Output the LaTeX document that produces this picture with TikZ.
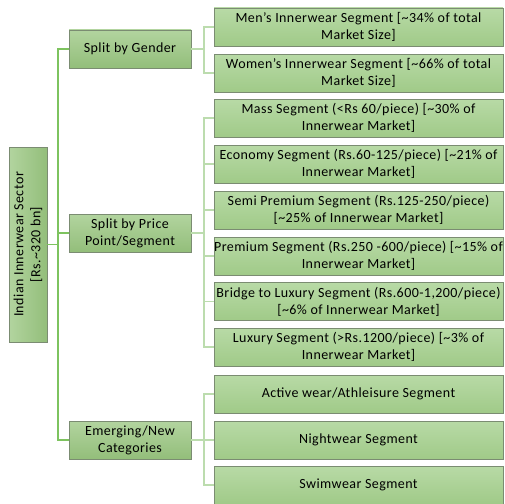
\documentclass[tikz,border=0pt]{standalone}
\usepackage{fontspec}
\setmainfont[LetterSpace=3]{Carlito}
\definecolor{boxline}{HTML}{7B8C72}
\definecolor{catTop}{HTML}{B2D49F}
\definecolor{catBot}{HTML}{93BE7A}
\definecolor{segTop}{HTML}{B8DAA6}
\definecolor{segBot}{HTML}{A0CA88}
\definecolor{trunkgreen}{HTML}{7DC35F}
\definecolor{forkgreen}{HTML}{BCDCAE}
\tikzset{
  box/.style={draw=boxline, line width=0.9pt, align=center, inner sep=0pt,
    font=\fontsize{14}{17}\selectfont},
  rootbox/.style={box, top color=catTop, bottom color=catBot, shading angle=90,
    minimum width=195pt, minimum height=38pt, rotate=90},
  catbox/.style={box, top color=catTop, bottom color=catBot,
    minimum width=122pt, minimum height=38pt},
  segbox/.style={box, top color=segTop, bottom color=segBot,
    minimum width=289pt, minimum height=38pt},
  lineone/.style={trunkgreen, line width=1.1pt},
  linetwo/.style={forkgreen, line width=1.1pt}
}
\begin{document}
\begin{tikzpicture}[x=1pt,y=-1pt]
\useasboundingbox (0,0) rectangle (505,503);
% root
\node[rootbox] (root) at (28,244.5) {Indian Innerwear Sector\\ {[}Rs.\textasciitilde320 bn]};
% first level
\node[catbox] (gender) at (130,49) {Split by Gender};
\node[catbox] (price) at (130,233) {Split by Price\\ Point/Segment};
\node[catbox] (emerging) at (130,440) {Emerging/New\\ Categories};
% second level
\node[segbox] (men) at (358.5,27) {Men’s Innerwear Segment [\textasciitilde34\% of total\\ Market Size]};
\node[segbox] (women) at (358.5,73) {Women’s Innerwear Segment [\textasciitilde66\% of total\\ Market Size]};
\node[segbox] (mass) at (358.5,118) {Mass Segment (<Rs 60/piece) [\textasciitilde30\% of\\ Innerwear Market]};
\node[segbox] (economy) at (358.5,164) {Economy Segment (Rs.60-125/piece) [\textasciitilde21\% of\\ Innerwear Market]};
\node[segbox] (semi) at (358.5,210) {Semi Premium Segment (Rs.125-250/piece)\\ {[}\textasciitilde25\% of Innerwear Market]};
\node[segbox] (premium) at (358.5,256) {Premium Segment (Rs.250 -600/piece) [\textasciitilde15\% of\\ Innerwear Market]};
\node[segbox] (bridge) at (358.5,301.5) {Bridge to Luxury Segment (Rs.600-1,200/piece)\\ {[}\textasciitilde6\% of Innerwear Market]};
\node[segbox] (luxury) at (358.5,347) {Luxury Segment (>Rs.1200/piece) [\textasciitilde3\% of\\ Innerwear Market]};
\node[segbox] (active) at (358.5,394) {Active wear/Athleisure Segment};
\node[segbox] (night) at (358.5,440) {Nightwear Segment};
\node[segbox] (swim) at (358.5,485) {Swimwear Segment};
% connectors
\coordinate (trunk) at (58,0);
\coordinate (fork) at (204,0);
\draw[lineone] (root.south) -- (root.south -| trunk);
\draw[lineone] (gender.west) -- (gender.west -| trunk) -- (emerging.west -| trunk) -- (emerging.west);
\draw[lineone] (price.west) -- (price.west -| trunk);
\foreach \p/\c in {gender/men, gender/women, price/mass, price/economy, price/semi,
  price/premium, price/bridge, price/luxury, emerging/active, emerging/night, emerging/swim}
  \draw[linetwo] (\p.east) -- (\p.east -| fork) |- (\c.west);
\end{tikzpicture}
\end{document}
